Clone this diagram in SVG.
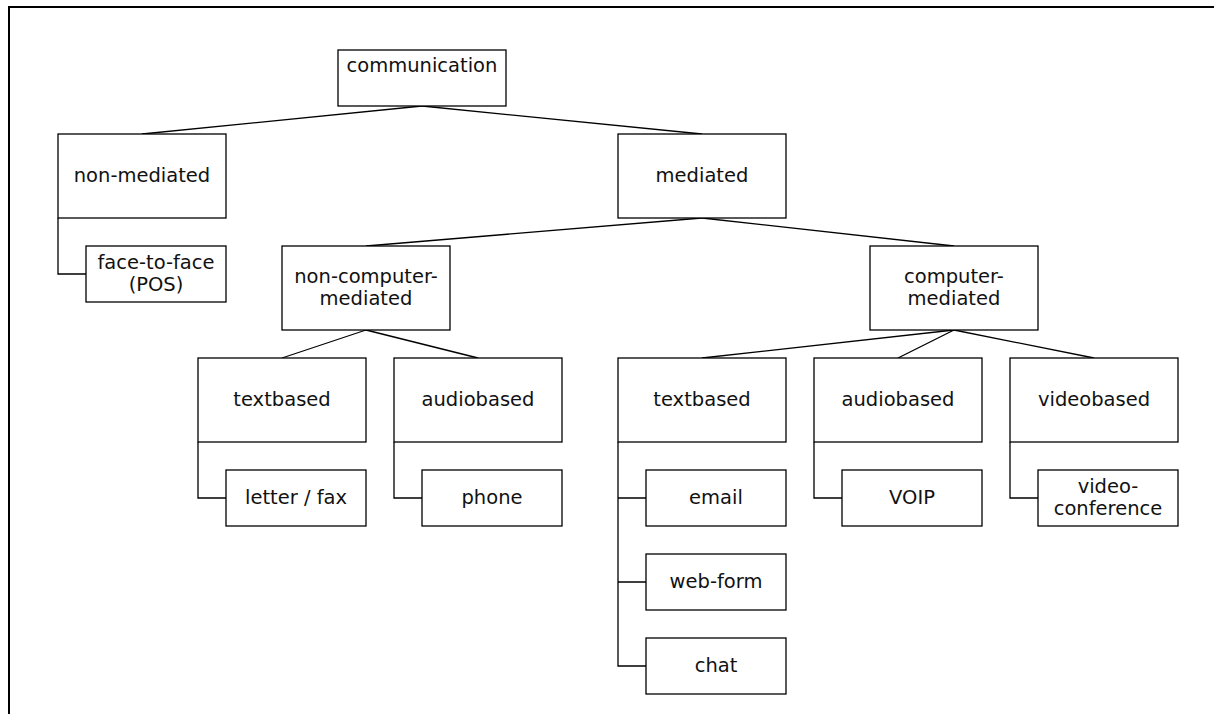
<svg xmlns="http://www.w3.org/2000/svg" width="1214" height="714" viewBox="0 0 1214 714">
<style>
rect{fill:#fff;stroke:#000;stroke-width:1.3}
text{font-family:"DejaVu Sans","Liberation Sans",sans-serif;font-size:19.5px;fill:#111;text-anchor:middle}
.c path,.c line{stroke:#000;stroke-width:1.3;fill:none}
</style>
<rect x="0" y="0" width="1214" height="714" style="fill:#fff;stroke:none"/>
<path d="M9,714 V7 H1214" style="fill:none;stroke:#000;stroke-width:2"/>
<g id="connectors" class="c">
<line x1="422" y1="106" x2="142" y2="134"/>
<line x1="422" y1="106" x2="702" y2="134"/>
<path d="M58,218 V274 H86"/>
<line x1="702" y1="218" x2="366" y2="246"/>
<line x1="702" y1="218" x2="954" y2="246"/>
<line x1="366" y1="330" x2="282" y2="358"/>
<line x1="366" y1="330" x2="478" y2="358"/>
<line x1="954" y1="330" x2="702" y2="358"/>
<line x1="954" y1="330" x2="898" y2="358"/>
<line x1="954" y1="330" x2="1094" y2="358"/>
<path d="M198,442 V498 H226"/>
<path d="M394,442 V498 H422"/>
<path d="M618,442 V666 H646 M618,498 H646 M618,582 H646"/>
<path d="M814,442 V498 H842"/>
<path d="M1010,442 V498 H1038"/>
</g>
<g id="communication"><rect x="338" y="50" width="168" height="56"/><text x="422" y="72">communication</text></g>
<g id="non-mediated"><rect x="58" y="134" width="168" height="84"/><text x="142" y="182">non-mediated</text></g>
<g id="face-to-face"><rect x="86" y="246" width="140" height="56"/><text x="156" y="269">face-to-face</text><text x="156" y="291">(POS)</text></g>
<g id="mediated"><rect x="618" y="134" width="168" height="84"/><text x="702" y="182">mediated</text></g>
<g id="non-computer-mediated"><rect x="282" y="246" width="168" height="84"/><text x="366" y="283">non-computer-</text><text x="366" y="305">mediated</text></g>
<g id="computer-mediated"><rect x="870" y="246" width="168" height="84"/><text x="954" y="283">computer-</text><text x="954" y="305">mediated</text></g>
<g id="textbased-1"><rect x="198" y="358" width="168" height="84"/><text x="282" y="406">textbased</text></g>
<g id="audiobased-1"><rect x="394" y="358" width="168" height="84"/><text x="478" y="406">audiobased</text></g>
<g id="letter-fax"><rect x="226" y="470" width="140" height="56"/><text x="296" y="504">letter / fax</text></g>
<g id="phone"><rect x="422" y="470" width="140" height="56"/><text x="492" y="504">phone</text></g>
<g id="textbased-2"><rect x="618" y="358" width="168" height="84"/><text x="702" y="406">textbased</text></g>
<g id="audiobased-2"><rect x="814" y="358" width="168" height="84"/><text x="898" y="406">audiobased</text></g>
<g id="videobased"><rect x="1010" y="358" width="168" height="84"/><text x="1094" y="406">videobased</text></g>
<g id="email"><rect x="646" y="470" width="140" height="56"/><text x="716" y="504">email</text></g>
<g id="web-form"><rect x="646" y="554" width="140" height="56"/><text x="716" y="588">web-form</text></g>
<g id="chat"><rect x="646" y="638" width="140" height="56"/><text x="716" y="672">chat</text></g>
<g id="voip"><rect x="842" y="470" width="140" height="56"/><text x="912" y="504">VOIP</text></g>
<g id="video-conference"><rect x="1038" y="470" width="140" height="56"/><text x="1108" y="493">video-</text><text x="1108" y="515">conference</text></g>
</svg>
